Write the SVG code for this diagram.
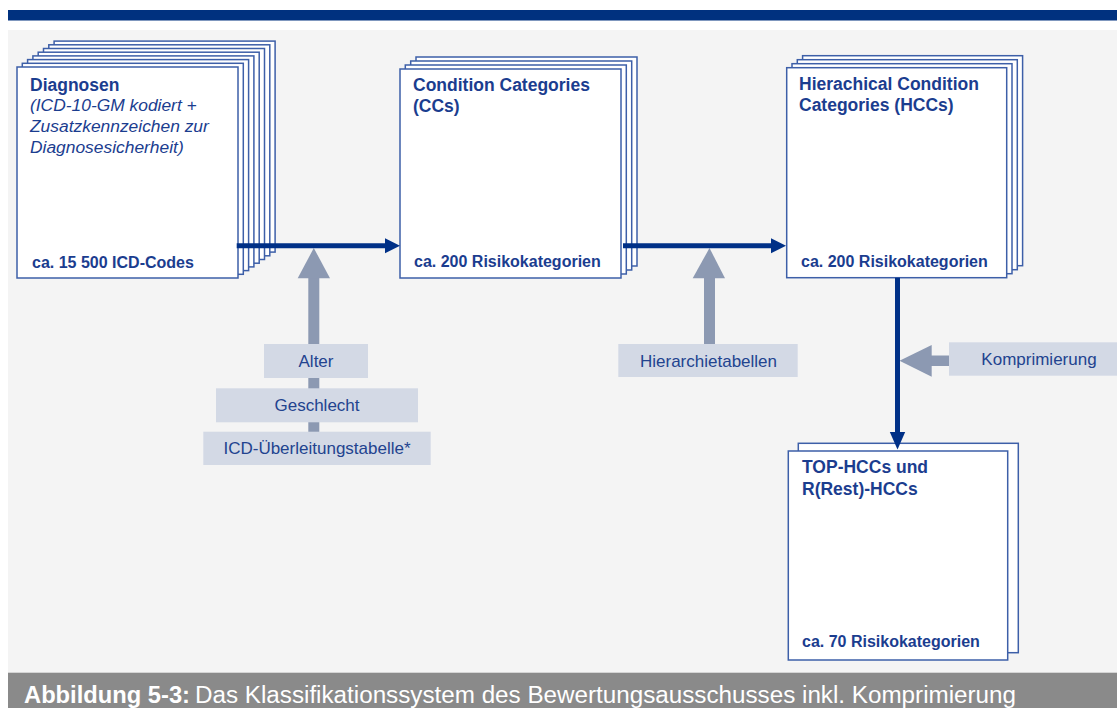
<svg xmlns="http://www.w3.org/2000/svg" width="1117" height="708" viewBox="0 0 1117 708">
<defs>
<style>
.sheet{fill:#ffffff;stroke:#3d5fa8;stroke-width:1.5}
.title{font-family:"Liberation Sans",Arial,sans-serif;font-weight:bold;font-size:17.5px;fill:#1b3d8f}
.ital{font-family:"Liberation Sans",Arial,sans-serif;font-style:italic;font-size:17.4px;fill:#1b3d8f}
.count{font-family:"Liberation Sans",Arial,sans-serif;font-weight:bold;font-size:16px;fill:#1b3d8f}
.lbox{fill:#d3d9e5}
.ltext{font-family:"Liberation Sans",Arial,sans-serif;font-size:17px;fill:#22438f;text-anchor:middle}
.garrow{fill:#8c99b2}
.bline{stroke:#003087;stroke-width:5;fill:none}
.bhead{fill:#003087}
.cap{font-family:"Liberation Sans",Arial,sans-serif;font-size:23px;fill:#ffffff}
</style>
</defs>
<rect x="0" y="0" width="1117" height="708" fill="#ffffff"/>
<rect x="8" y="10" width="1109" height="10.5" fill="#00317f"/>
<rect x="8" y="30" width="1109" height="643" fill="#f4f4f4"/>

<g id="diagnosen">
<rect class="sheet" x="54.1" y="41.1" width="221" height="211"/>
<rect class="sheet" x="48.8" y="44.8" width="221" height="211"/>
<rect class="sheet" x="43.5" y="48.5" width="221" height="211"/>
<rect class="sheet" x="38.2" y="52.2" width="221" height="211"/>
<rect class="sheet" x="32.9" y="55.9" width="221" height="211"/>
<rect class="sheet" x="27.6" y="59.6" width="221" height="211"/>
<rect class="sheet" x="22.3" y="63.3" width="221" height="211"/>
<rect class="sheet" x="17" y="67" width="221" height="211"/>
<text class="title" x="30" y="91">Diagnosen</text>
<text class="ital" x="30" y="111">(ICD-10-GM kodiert +</text>
<text class="ital" x="30" y="132">Zusatzkennzeichen zur</text>
<text class="ital" x="30" y="153">Diagnosesicherheit)</text>
<text class="count" x="32" y="268">ca. 15 500 ICD-Codes</text>
</g>

<g id="ccs">
<rect class="sheet" x="416" y="57" width="221" height="209"/>
<rect class="sheet" x="410.7" y="61" width="221" height="209"/>
<rect class="sheet" x="405.3" y="65" width="221" height="209"/>
<rect class="sheet" x="400" y="69" width="221" height="209"/>
<text class="title" x="413" y="91">Condition Categories</text>
<text class="title" x="413" y="112">(CCs)</text>
<text class="count" x="414" y="267">ca. 200 Risikokategorien</text>
</g>

<g id="hccs">
<rect class="sheet" x="802.6" y="55.7" width="220" height="210"/>
<rect class="sheet" x="797.3" y="59.7" width="220" height="210"/>
<rect class="sheet" x="792" y="63.7" width="220" height="210"/>
<rect class="sheet" x="786.7" y="67.7" width="220" height="210"/>
<text class="title" x="799" y="90">Hierachical Condition</text>
<text class="title" x="799" y="111">Categories (HCCs)</text>
<text class="count" x="801" y="267">ca. 200 Risikokategorien</text>
</g>

<g id="top-hccs">
<rect class="sheet" x="798.3" y="443.3" width="220" height="209.4"/>
<rect class="sheet" x="788.3" y="451" width="219.4" height="209"/>
<text class="title" x="802" y="473">TOP-HCCs und</text>
<text class="title" x="802" y="495">R(Rest)-HCCs</text>
<text class="count" x="802" y="647">ca. 70 Risikokategorien</text>
</g>

<g id="connectors">
<rect class="garrow" x="308.3" y="277" width="11" height="165"/>
<polygon class="garrow" points="297.7,278.3 330,278.3 313.8,248"/>
<rect class="garrow" x="704" y="277" width="11" height="68"/>
<polygon class="garrow" points="692.7,278.3 725,278.3 709.5,248"/>
<rect class="garrow" x="930" y="355.5" width="20" height="10.5"/>
<polygon class="garrow" points="931.7,345 931.7,376.7 899.5,360.8"/>
<line class="bline" x1="236.7" y1="245.7" x2="387" y2="245.7"/>
<polygon class="bhead" points="385,238.2 400,245.7 385,253.2"/>
<line class="bline" x1="623" y1="245.7" x2="773" y2="245.7"/>
<polygon class="bhead" points="771,238.2 786,245.7 771,253.2"/>
<line class="bline" x1="897.5" y1="277.7" x2="897.5" y2="434"/>
<polygon class="bhead" points="889.8,432 905.2,432 897.5,449.5"/>
</g>

<g id="label-alter">
<rect class="lbox" x="264" y="344" width="104" height="34"/>
<text class="ltext" x="316" y="367">Alter</text>
</g>
<g id="label-geschlecht">
<rect class="lbox" x="216" y="388.3" width="202" height="34"/>
<text class="ltext" x="317" y="411">Geschlecht</text>
</g>
<g id="label-icd">
<rect class="lbox" x="203.3" y="431.7" width="227.4" height="33.3"/>
<text class="ltext" x="317" y="454">ICD-Überleitungstabelle*</text>
</g>
<g id="label-hierarchie">
<rect class="lbox" x="618.3" y="344" width="179.4" height="33"/>
<text class="ltext" x="708.5" y="367">Hierarchietabellen</text>
</g>
<g id="label-komprimierung">
<rect class="lbox" x="949" y="342.3" width="168" height="33.4"/>
<text class="ltext" x="1039" y="365">Komprimierung</text>
</g>

<g id="caption">
<rect x="8" y="672.7" width="1109" height="35.3" fill="#8a8a8a"/>
<text class="cap" x="24" y="703" font-weight="bold" textLength="166" lengthAdjust="spacingAndGlyphs">Abbildung 5-3:</text>
<text class="cap" x="195" y="703" textLength="821" lengthAdjust="spacingAndGlyphs">Das Klassifikationssystem des Bewertungsausschusses inkl. Komprimierung</text>
</g>
</svg>
